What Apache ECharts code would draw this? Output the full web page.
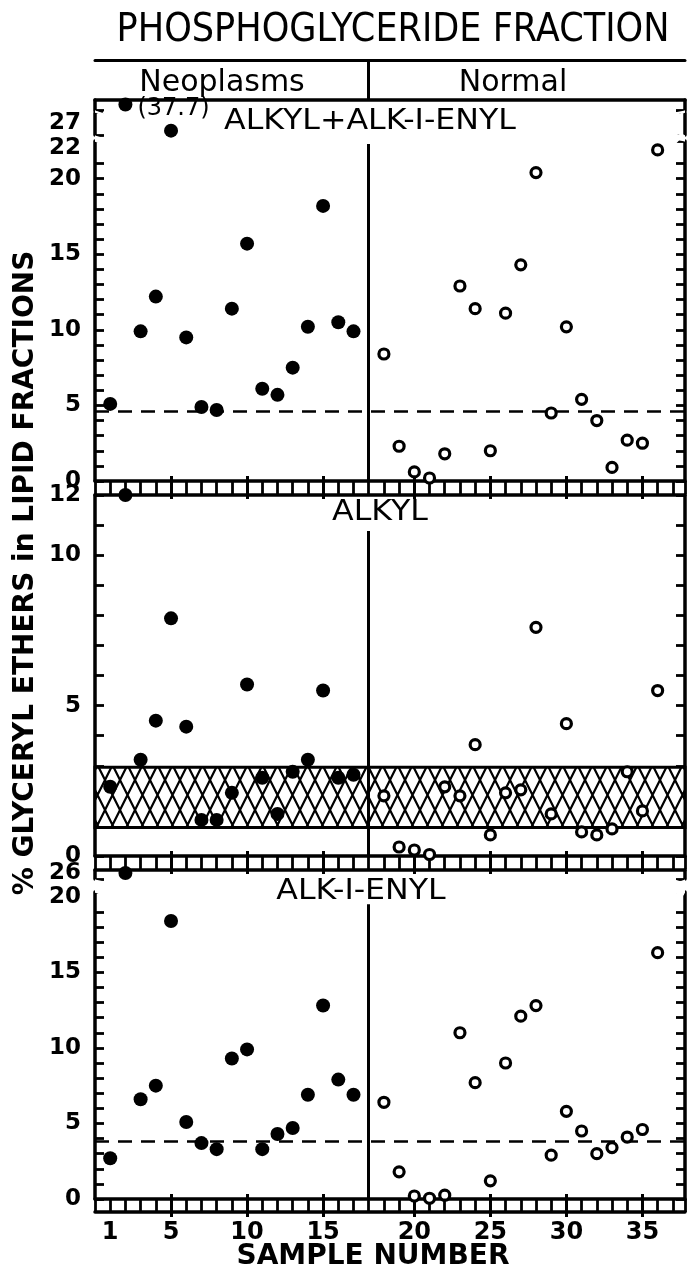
<!DOCTYPE html>
<html>
<head>
<meta charset="utf-8">
<script src="https://cdn.jsdelivr.net/npm/echarts@6.0.0/dist/echarts.min.js"></script>
<style>
  html, body { margin: 0; padding: 0; background: #fff; }
  #chart { width: 691px; height: 1270px; }
</style>
</head>
<body>
<div id="chart"></div>
<script>
// sample numbers: neoplasms 1-17, normal 18-36
const neoSamples = [1, 2, 3, 4, 5, 6, 7, 8, 9, 10, 11, 12, 13, 14, 15, 16, 17];
const normSamples = [18, 19, 20, 21, 22, 23, 24, 25, 26, 27, 28, 29, 30, 31, 32, 33, 34, 35, 36];

// ALKYL + ALK-I-ENYL
const totalNeo = [5.1, 37.7, 9.9, 12.2, 26.5, 9.5, 4.9, 4.7, 11.4, 15.7, 6.1, 5.7, 7.5, 10.2, 18.2, 10.5, 9.9];
const totalNorm = [8.4, 2.3, 0.6, 0.2, 1.8, 12.9, 11.4, 2.0, 11.1, 14.3, 20.4, 4.5, 10.2, 5.4, 4.0, 0.9, 2.7, 2.5, 21.9];
const totalRef = 4.6;

// ALKYL
const alkylNeo = [2.3, 12.0, 3.2, 4.5, 7.9, 4.3, 1.2, 1.2, 2.1, 5.7, 2.6, 1.4, 2.8, 3.2, 5.5, 2.6, 2.7];
const alkylNorm = [2.0, 0.3, 0.2, 0.05, 2.3, 2.0, 3.7, 0.7, 2.1, 2.2, 7.6, 1.4, 4.4, 0.8, 0.7, 0.9, 2.8, 1.5, 5.5];
const alkylBand = [0.95, 2.95];

// ALK-I-ENYL
const alkenylNeo = [2.7, 26.0, 6.6, 7.5, 18.4, 5.1, 3.7, 3.3, 9.3, 9.9, 3.3, 4.3, 4.7, 6.9, 12.8, 7.9, 6.9];
const alkenylNorm = [6.4, 1.8, 0.2, 0.05, 0.25, 11.0, 7.7, 1.2, 9.0, 12.1, 12.8, 2.9, 5.8, 4.5, 3.0, 3.4, 4.1, 4.6, 16.3];
const alkenylRef = 3.85;

// tick labels
const xLabelSamples = [1, 5, 10, 15, 20, 25, 30, 35];
const xMajorSamples = [5, 10, 15, 20, 25, 30, 35];
const totalLabels = [0, 5, 10, 15, 20, 22, 27];
const alkylLabels = [0, 5, 10, 12];
const alkenylLabels = [0, 5, 10, 15, 20, 26];

const XMAX = 38.8;
const nNeo = neoSamples.length;
// one empty slot between the two groups holds the divider
const pos = s => (s <= nNeo ? s : s + 1);
const dividerPos = nNeo + 1;

const FAM = '"DejaVu Sans", sans-serif';
const black = (w) => ({ color: '#000', width: w });

// cross hatch for the alkyl band
const hatch = document.createElement('canvas');
hatch.width = 15;
hatch.height = 30;
const hctx = hatch.getContext('2d');
hctx.fillStyle = '#fff';
hctx.fillRect(0, 0, 15, 30);
hctx.strokeStyle = '#000';
hctx.lineWidth = 2.2;
hctx.beginPath();
hctx.moveTo(-7.5, -15); hctx.lineTo(22.5, 45);
hctx.moveTo(22.5, -15); hctx.lineTo(-7.5, 45);
hctx.stroke();

const breakStyle = {
  show: true,
  itemStyle: { color: '#fff', borderColor: 'transparent', borderWidth: 0, opacity: 1 },
  zigzagAmplitude: 3,
  zigzagZ: 2,
  expandOnClick: false
};

const panels = [
  { top: 100, height: 381, max: 38, labels: totalLabels, neo: totalNeo, norm: totalNorm, ref: totalRef,
    breaks: [{ start: 22.5, end: 26.2, gap: '1.5%' }, { start: 27.7, end: 37.3, gap: '0.5%' }], dividerTop: 22.3 },
  { top: 495, height: 361, max: 12, labels: alkylLabels, neo: alkylNeo, norm: alkylNorm, band: alkylBand,
    dividerTop: 10.8 },
  { top: 870, height: 329, max: 26.2, labels: alkenylLabels, neo: alkenylNeo, norm: alkenylNorm, ref: alkenylRef,
    breaks: [{ start: 20.3, end: 25.6, gap: '4%' }], dividerTop: 19.5, bottom: true }
];

const plain = { axisTick: { show: false }, axisLabel: { show: false }, splitLine: { show: false } };

// header strip: top line and the Neoplasms / Normal divider
const grid = [{ left: 95, right: 6, top: 60, height: 40 }];
const xAxis = [Object.assign({ gridIndex: 0, type: 'value', min: 0, max: XMAX, position: 'top',
  axisLine: { onZero: false, lineStyle: black(3) } }, plain)];
const yAxis = [{ gridIndex: 0, type: 'value', min: 0, max: 1, show: false }];
const series = [{
  type: 'scatter', xAxisIndex: 0, yAxisIndex: 0, data: [],
  markLine: { silent: true, symbol: ['none', 'none'], label: { show: false }, lineStyle: { color: '#000', width: 3, type: 'solid' },
    data: [[{ coord: [dividerPos, 0] }, { coord: [dividerPos, 1] }]] }
}];

panels.forEach((p, i) => {
  const g = i + 1;
  grid.push({ left: 95, right: 6, top: p.top, height: p.height });

  const xMain = xAxis.length;
  xAxis.push({
    gridIndex: g, type: 'value', min: 0, max: XMAX, interval: 1, position: 'bottom',
    axisLine: { onZero: false, lineStyle: black(3.5) },
    axisTick: { length: 13, lineStyle: black(2.8) },
    axisLabel: { show: !!p.bottom, customValues: xLabelSamples.map(pos),
      formatter: v => String(v <= nNeo ? v : v - 1),
      color: '#000', fontFamily: FAM, fontWeight: 'bold', fontSize: 24, margin: 22 },
    splitLine: { show: false }
  });
  // long ticks every 5 samples, crossing the ladder strip
  xAxis.push({
    gridIndex: g, type: 'value', min: 0, max: XMAX, position: 'bottom', offset: -5,
    axisLine: { show: false },
    axisTick: { customValues: xMajorSamples.map(pos), length: 23, lineStyle: black(3) },
    axisLabel: { show: false }, splitLine: { show: false }
  });
  xAxis.push(Object.assign({ gridIndex: g, type: 'value', min: 0, max: XMAX, position: 'top',
    axisLine: { onZero: false, lineStyle: black(3.5) } }, plain));
  if (p.bottom) {
    xAxis.push(Object.assign({ gridIndex: g, type: 'value', min: 0, max: XMAX, position: 'bottom', offset: 13,
      axisLine: { onZero: false, lineStyle: black(3.5) } }, plain));
  }

  const yL = yAxis.length;
  const yBase = { gridIndex: g, type: 'value', min: 0, max: p.max, interval: 1, splitLine: { show: false } };
  if (p.breaks) {
    yBase.breaks = p.breaks;
    yBase.breakArea = breakStyle;
    yBase.breakLabelLayout = { moveOverlap: false };
  }
  yAxis.push(Object.assign({}, yBase, {
    position: 'left',
    axisLine: { onZero: false, lineStyle: black(3.5) },
    axisTick: { inside: true, length: 9, lineStyle: black(2.8) },
    axisLabel: { customValues: p.labels, hideOverlap: false, color: '#000', fontFamily: FAM, fontWeight: 'bold',
      fontSize: 23, margin: 14 }
  }));
  yAxis.push(Object.assign({}, yBase, {
    position: 'right',
    axisLine: { onZero: false, lineStyle: black(3.5) },
    axisTick: { inside: true, length: 9, lineStyle: black(2.8) },
    axisLabel: { show: false }
  }));

  const lines = [[{ coord: [dividerPos, 0] }, { coord: [dividerPos, p.dividerTop] }]];
  if (p.ref != null) {
    lines.push({ yAxis: p.ref, lineStyle: { type: [14, 9], width: 2.6 } });
  }

  series.push({
    type: 'scatter', xAxisIndex: xMain, yAxisIndex: yL, z: 5,
    symbol: 'circle', symbolSize: 14, itemStyle: { color: '#000', opacity: 1 },
    label: { show: true, position: 'right', distance: 5, offset: [0, 4], color: '#000', fontFamily: FAM, fontSize: 24,
      formatter: d => (d.value[1] > 30 ? '(' + d.value[1] + ')' : '') },
    data: neoSamples.map((s, k) => [pos(s), p.neo[k]])
  });

  const normSeries = {
    type: 'scatter', xAxisIndex: xMain, yAxisIndex: yL, z: 5,
    symbol: 'circle', symbolSize: 10, itemStyle: { color: '#fff', borderColor: '#000', borderWidth: 3.2, opacity: 1 },
    data: normSamples.map((s, k) => [pos(s), p.norm[k]]),
    markLine: { silent: true, symbol: ['none', 'none'], label: { show: false },
      lineStyle: { color: '#000', width: 3, type: 'solid' }, data: lines }
  };
  if (p.band) {
    normSeries.markArea = { silent: true,
      itemStyle: { color: { image: hatch, repeat: 'repeat' }, borderColor: '#000', borderWidth: 3 },
      data: [[{ yAxis: p.band[0] }, { yAxis: p.band[1] }]] };
  }
  series.push(normSeries);
});

function txt(text, x, y, font, extra) {
  return Object.assign({
    type: 'text', x: x, y: y, z: 200,
    style: { text: text, font: font, fill: '#000', align: 'center', verticalAlign: 'middle',
      textAlign: 'center', textVerticalAlign: 'middle' }
  }, extra || {});
}

const chart = echarts.init(document.getElementById('chart'));
chart.setOption({
  animation: false,
  backgroundColor: '#fff',
  grid: grid,
  xAxis: xAxis,
  yAxis: yAxis,
  series: series,
  graphic: { elements: [
    txt('PHOSPHOGLYCERIDE FRACTION', 393, 31, 'normal 39px ' + FAM, { scaleX: 0.9 }),
    txt('Neoplasms', 222, 83, 'normal 30px ' + FAM),
    txt('Normal', 513, 83, 'normal 30px ' + FAM),
    txt('ALKYL+ALK-I-ENYL', 370, 122, 'normal 28px ' + FAM, { scaleX: 1.13 }),
    txt('ALKYL', 380, 513, 'normal 28px ' + FAM, { scaleX: 1.13 }),
    txt('ALK-I-ENYL', 361, 892, 'normal 28px ' + FAM, { scaleX: 1.13 }),
    txt('% GLYCERYL ETHERS in LIPID FRACTIONS', 26, 573, 'bold 28px ' + FAM, { rotation: Math.PI / 2 }),
    txt('SAMPLE NUMBER', 373, 1257, 'bold 28px ' + FAM)
  ] }
});
</script>
</body>
</html>
